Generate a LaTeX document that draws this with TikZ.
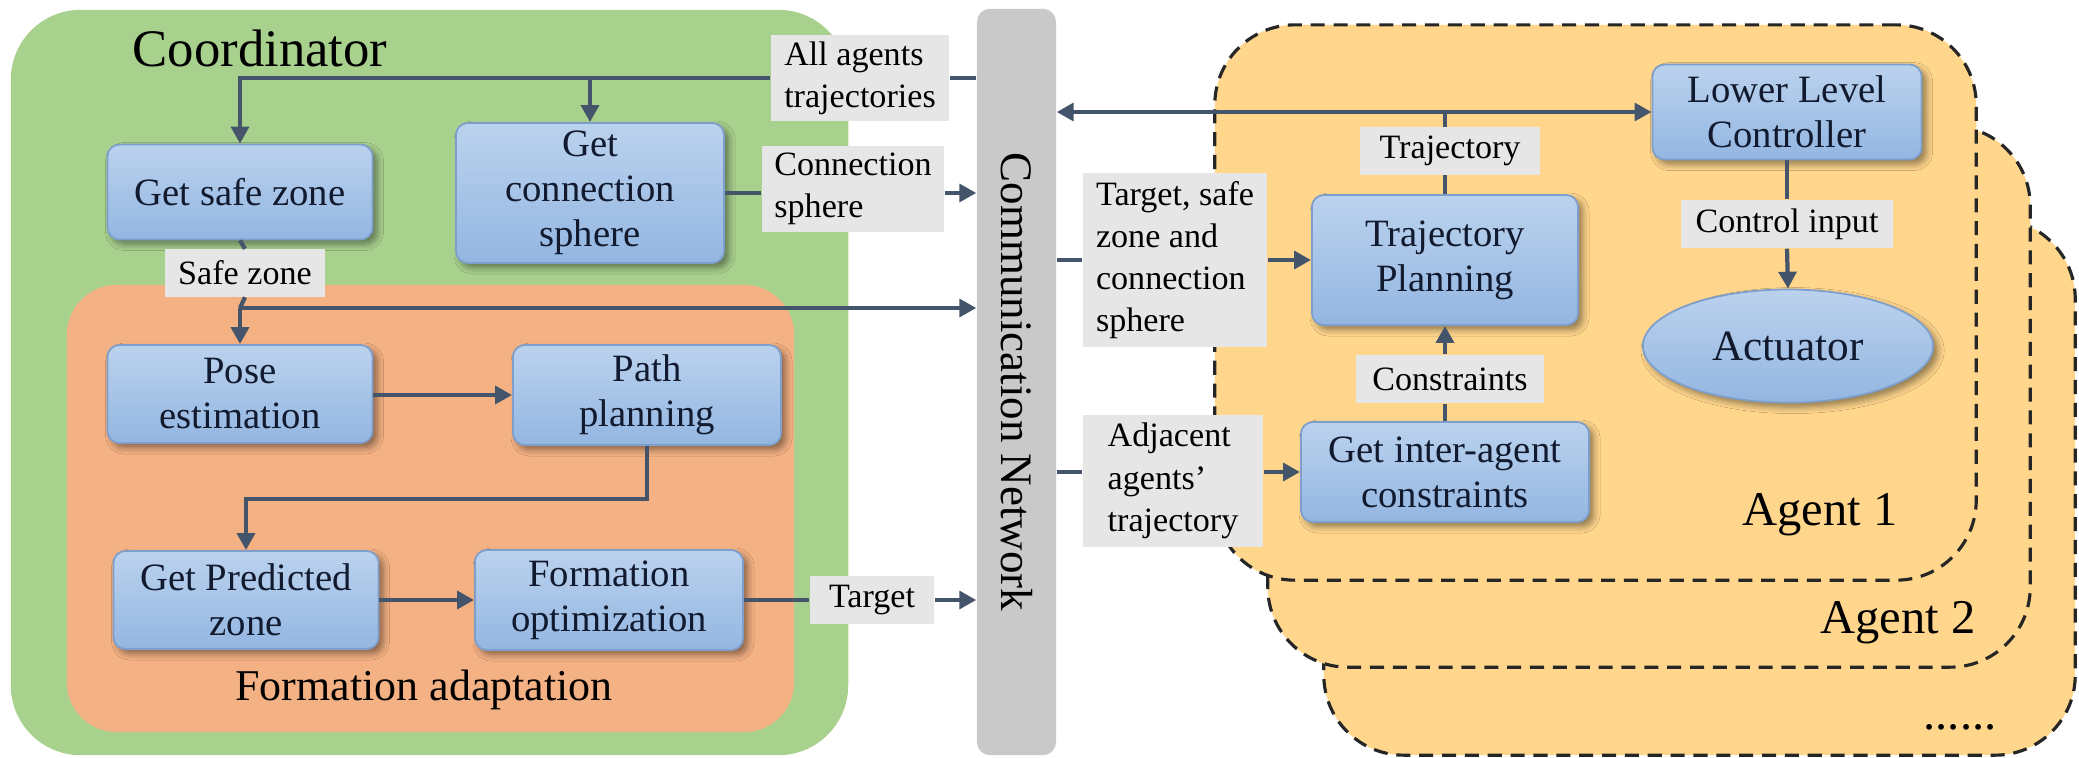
\documentclass[tikz,border=0pt]{standalone}
\usepackage{fontspec}
\setmainfont{Liberation Serif}
\usetikzlibrary{arrows.meta,shapes.geometric,shadows.blur}
\definecolor{linec}{HTML}{44546A}
\definecolor{greenbg}{HTML}{A9D18E}
\definecolor{orangebg}{HTML}{F4B183}
\definecolor{agentbg}{HTML}{FFD68C}
\definecolor{lblgray}{HTML}{E7E6E6}
\definecolor{boxtop}{HTML}{BBD2EE}
\definecolor{boxbot}{HTML}{93B6E1}
\definecolor{boxedge}{HTML}{7E9FCB}
\definecolor{commgray}{HTML}{C9C9C9}
\definecolor{txtc}{HTML}{111A2E}
\begin{document}
\begin{tikzpicture}[x=0.01cm,y=-0.01cm,
  box/.style={rectangle, rounded corners=0.12cm, draw=boxedge, line width=0.5pt,
    top color=boxtop, bottom color=boxbot, inner sep=0pt, align=center, text=txtc,
    font=\fontsize{11}{12.8}\selectfont,
    blur shadow={shadow xshift=1.3pt, shadow yshift=-1.3pt, shadow blur steps=6, shadow opacity=45}},
  lbl/.style={rectangle, fill=lblgray, inner sep=0pt, align=left,
    font=\fontsize{9.7}{12}\selectfont},
  conn/.style={draw=linec, line width=1.2pt},
  arr/.style={conn, -{Triangle[length=4.8pt,width=5pt]}},
  biarr/.style={conn, {Triangle[length=4.8pt,width=5pt]}-{Triangle[length=4.8pt,width=5pt]}},
  agent/.style={rectangle, rounded corners=0.8cm, fill=agentbg, draw=black!85,
    line width=0.9pt, dash pattern=on 4pt off 2.5pt},
  region/.style={rectangle, inner sep=0pt}
]
\useasboundingbox (0,0) rectangle (2079,757);

% ---------- background regions ----------
\node[region, fill=greenbg, rounded corners=0.7cm, minimum width=8.37cm, minimum height=7.45cm] (coord) at (429.5,382.5) {};
\node[region, fill=orangebg, rounded corners=0.5cm, minimum width=7.27cm, minimum height=4.47cm] (formad) at (430.5,508.5) {};
\node[font=\fontsize{15}{18}\selectfont] (coordtxt) at (260,48) {Coordinator};
\node[font=\fontsize{12.5}{15}\selectfont] (formtxt) at (424,690) {Formation adaptation};

\node[agent, minimum width=7.51cm, minimum height=5.36cm] (a3) at (1699.5,487) {};
\node[agent, minimum width=7.62cm, minimum height=5.41cm] (a2) at (1649,396.5) {};
\node[agent, minimum width=7.61cm, minimum height=5.55cm] (a1) at (1595.5,302.5) {};
\node[font=\fontsize{13.8}{16}\selectfont] (a1txt) at (1820,515) {Agent 1};
\node[font=\fontsize{13.8}{16}\selectfont] (a2txt) at (1898,623) {Agent 2};
\node[font=\fontsize{13.8}{16}\selectfont] (dots) at (1960,727) {......};

% ---------- communication network ----------
\node[region, fill=commgray, rounded corners=0.13cm, minimum width=0.79cm, minimum height=7.46cm,
  font=\fontsize{12.8}{15}\selectfont] (comm) at (1016.5,382) {\rotatebox{-90}{Communication Network}};

% ---------- coordinator boxes ----------
\node[box, minimum width=2.65cm, minimum height=0.95cm] (gsz) at (240,192) {Get safe zone};
\node[box, minimum width=2.68cm, minimum height=1.40cm] (gcs) at (590,193) {Get\\connection\\sphere};
\node[box, minimum width=2.65cm, minimum height=0.98cm] (pose) at (240,394) {Pose\\estimation};
\node[box, minimum width=2.68cm, minimum height=1.00cm] (path) at (647,395) {Path\\planning};
\node[box, minimum width=2.65cm, minimum height=0.98cm] (gpz) at (246,600) {Get Predicted\\zone};
\node[box, minimum width=2.68cm, minimum height=1.00cm] (fo) at (609,600) {Formation\\optimization};

% ---------- agent boxes ----------
\node[box, minimum width=2.69cm, minimum height=0.95cm] (llc) at (1787,112) {Lower Level\\Controller};
\node[box, minimum width=2.66cm, minimum height=1.30cm] (tp) at (1445,260) {Trajectory\\Planning};
\node[box, minimum width=2.88cm, minimum height=1.00cm] (gic) at (1445,472) {Get inter-agent\\constraints};
\node[box, ellipse, minimum width=2.90cm, minimum height=1.13cm, font=\fontsize{12.3}{14}\selectfont] (act) at (1788,346) {Actuator};

% ---------- labels ----------
\node[lbl, minimum width=1.78cm, minimum height=0.86cm] (lall) at (860,78) {All agents\\trajectories};
\node[lbl, minimum width=1.82cm, minimum height=0.85cm] (lcs) at (853,189) {Connection\\sphere};
\node[lbl, minimum width=1.60cm, minimum height=0.47cm] (lsz) at (245,273) {Safe zone};
\node[lbl, minimum width=1.24cm, minimum height=0.48cm] (ltg) at (872,600) {Target};
\node[lbl, minimum width=1.80cm, minimum height=0.47cm] (ltr) at (1450,151) {Trajectory};
\node[lbl, minimum width=1.84cm, minimum height=1.74cm] (ltsz) at (1175,260) {Target, safe\\zone and\\connection\\sphere};
\node[lbl, minimum width=2.12cm, minimum height=0.48cm] (lci) at (1787,224) {Control input};
\node[lbl, minimum width=1.87cm, minimum height=0.48cm] (lcon) at (1450,379) {Constraints};
\node[lbl, minimum width=1.80cm, minimum height=1.32cm] (ladj) at (1173,481) {Adjacent\\agents'\\trajectory};

% ---------- connectors: coordinator ----------
\draw[conn] (comm.west |- lall.east) -- (lall.east);
\draw[arr] (lall.west) -| (gsz.north);
\draw[arr] (gcs.north |- lall.west) -- (gcs.north);
\draw[conn] (gcs.east) -- (gcs.east -| lcs.west);
\draw[arr] (gcs.east -| lcs.east) -- (gcs.east -| comm.west);
\draw[conn] (gsz.south) -- (lsz.north);
\coordinate (j1) at (240,308);
\draw[conn] (lsz.south) -- (j1);
\draw[arr] (j1) -- (j1 -| comm.west);
\draw[arr] (j1) -- (pose.north);
\draw[arr] (pose.east |- path.west) -- (path.west);
\draw[arr] (path.south) -- ++(0,53) -| (gpz.north);
\draw[arr] (gpz.east |- fo.west) -- (fo.west);
\draw[conn] (fo.east) -- (fo.east -| ltg.west);
\draw[arr] (fo.east -| ltg.east) -- (fo.east -| comm.west);

% ---------- connectors: agent ----------
\draw[biarr] (comm.east |- llc.west) -- (llc.west);
\draw[conn] (tp.north) -- (tp.north |- ltr.south);
\draw[conn] (tp.north |- ltr.north) -- (tp.north |- llc.west);
\draw[conn] (comm.east |- tp.west) -- (ltsz.west |- tp.west);
\draw[arr] (ltsz.east |- tp.west) -- (tp.west);
\draw[conn] (gic.north) -- (gic.north |- lcon.south);
\draw[arr] (gic.north |- lcon.north) -- (tp.south);
\draw[conn] (comm.east |- gic.west) -- (ladj.west |- gic.west);
\draw[arr] (ladj.east |- gic.west) -- (gic.west);
\draw[conn] (llc.south) -- (llc.south |- lci.north);
\draw[arr] (llc.south |- lci.south) -- (act.north);
\end{tikzpicture}
\end{document}
